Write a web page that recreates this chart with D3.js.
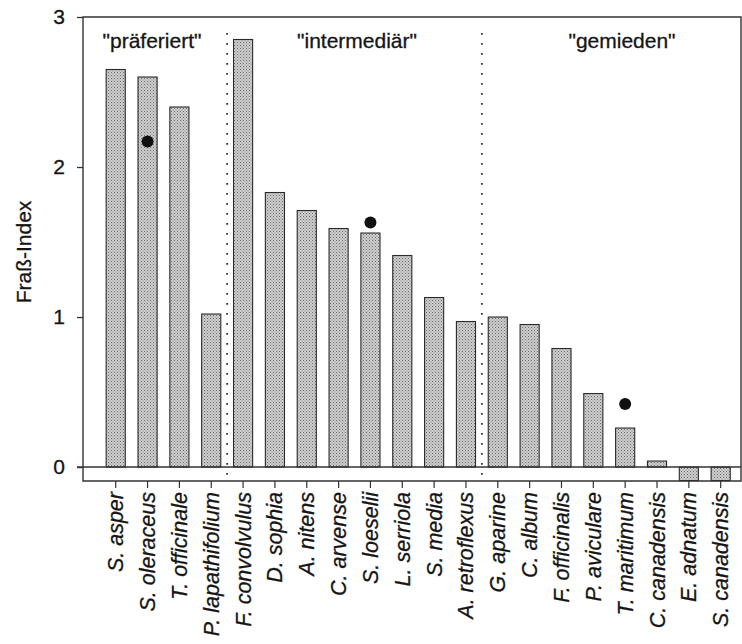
<!DOCTYPE html>
<html>
<head>
<meta charset="utf-8">
<script src="https://cdn.jsdelivr.net/npm/d3@7"></script>
<style>
  body { margin: 0; background: #fff; }
  svg { display: block; font-family: "Liberation Sans", Arial, sans-serif; }
</style>
</head>
<body>
<svg id="chart" width="742" height="644"></svg>
<script>
// species along the x axis
var species = ["S. asper", "S. oleraceus", "T. officinale", "P. lapathifolium", "F. convolvulus",
  "D. sophia", "A. nitens", "C. arvense", "S. loeselii", "L. serriola", "S. media", "A. retroflexus",
  "G. aparine", "C. album", "F. officinalis", "P. aviculare", "T. maritimum", "C. canadensis",
  "E. adnatum", "S. canadensis"];
// Fraß-Index (bars)
var index = [2.65, 2.60, 2.40, 1.02, 2.85, 1.83, 1.71, 1.59, 1.56, 1.41, 1.13, 0.97,
  1.00, 0.95, 0.79, 0.49, 0.26, 0.04, -0.09, -0.09];
// second measurement (black dots)
var dotSpecies = ["S. oleraceus", "S. loeselii", "T. maritimum"];
var dotValues = [2.17, 1.63, 0.42];
// groups
var groupNames = ['"präferiert"', '"intermediär"', '"gemieden"'];
var groupLast = ["P. lapathifolium", "A. retroflexus"]; // divider after these
var yTicks = [0, 1, 2, 3];

var svg = d3.select("#chart");
var mLeft = 83, mRight = 741, mTop = 17, mBottom = 481;
var ink = "#151515";

var x = d3.scaleBand().domain(species).range([99.8, 736.6]).paddingInner(0.4).paddingOuter(0.2);
var y = d3.scaleLinear().domain([-0.093, 3]).range([mBottom, mTop]);

// stipple pattern for bars
var defs = svg.append("defs");
var pat = defs.append("pattern").attr("id", "stip").attr("width", 3).attr("height", 3)
  .attr("patternUnits", "userSpaceOnUse");
pat.append("rect").attr("width", 3).attr("height", 3).attr("fill", "#cdcdcd");
pat.append("rect").attr("x", 0).attr("y", 0).attr("width", 1).attr("height", 1).attr("fill", "#6e6e6e");
pat.append("rect").attr("x", 1.5).attr("y", 1.5).attr("width", 1).attr("height", 1).attr("fill", "#8c8c8c");

// dotted dividers
var mid = function(name) {
  var i = species.indexOf(name);
  return (x(species[i]) + x(species[i + 1]) + x.bandwidth()) / 2;
};
svg.selectAll(".divider").data(groupLast).enter().append("line")
  .attr("class", "divider")
  .attr("x1", function(d) { return mid(d); }).attr("x2", function(d) { return mid(d); })
  .attr("y1", 33).attr("y2", mBottom)
  .attr("stroke", "#333").attr("stroke-width", 1.8).attr("stroke-dasharray", "1.8,8.2");

// bars
var bars = species.map(function(s, i) { return { name: s, v: index[i] }; });
svg.selectAll(".bar").data(bars).enter().append("rect")
  .attr("class", "bar")
  .attr("x", function(d) { return x(d.name); })
  .attr("width", x.bandwidth())
  .attr("y", function(d) { return y(Math.max(0, d.v)); })
  .attr("height", function(d) { return Math.abs(y(d.v) - y(0)); })
  .attr("fill", "url(#stip)").attr("stroke", "#2a2a2a").attr("stroke-width", 1.1);

// dots
var dots = dotSpecies.map(function(s, i) { return { name: s, v: dotValues[i] }; });
svg.selectAll(".dot").data(dots).enter().append("circle")
  .attr("class", "dot")
  .attr("cx", function(d) { return x(d.name) + x.bandwidth() / 2; })
  .attr("cy", function(d) { return y(d.v); })
  .attr("r", 6).attr("fill", "#111");

// frame
svg.append("path")
  .attr("d", "M" + mLeft + "," + mBottom + "V" + mTop + "H" + mRight + "V" + mBottom + "Z")
  .attr("fill", "none").attr("stroke", "#333").attr("stroke-width", 1.4);
// zero line
svg.append("line").attr("x1", mLeft - 6).attr("x2", mRight).attr("y1", y(0)).attr("y2", y(0))
  .attr("stroke", "#333").attr("stroke-width", 1.4);

// y axis
var yAxis = svg.append("g").attr("transform", "translate(" + mLeft + ",0)")
  .call(d3.axisLeft(y).tickValues(yTicks).tickFormat(d3.format("d")).tickSize(6).tickSizeOuter(0).tickPadding(12));
yAxis.select(".domain").remove();
yAxis.selectAll("line").attr("stroke", "#333").attr("stroke-width", 1.3);
yAxis.selectAll("text").attr("font-size", 21).attr("fill", ink)
  .attr("stroke", ink).attr("stroke-width", 0.3)
  .style("font-family", "Liberation Sans, Arial, sans-serif");

// x axis
var xAxis = svg.append("g").attr("transform", "translate(0," + mBottom + ")")
  .call(d3.axisBottom(x).tickSize(7).tickSizeOuter(0).tickPadding(0));
xAxis.select(".domain").remove();
xAxis.selectAll("line").attr("stroke", "#333").attr("stroke-width", 1.2);
xAxis.selectAll("text")
  .attr("font-size", 21.5).attr("fill", ink).attr("font-style", "italic")
  .attr("stroke", ink).attr("stroke-width", 0.3)
  .style("font-family", "Liberation Sans, Arial, sans-serif")
  .attr("text-anchor", "end")
  .attr("transform", "translate(0,11) rotate(-90)")
  .attr("x", 0).attr("y", 0).attr("dy", "0.35em");

// y title
svg.append("text").attr("transform", "translate(31,252) rotate(-90)")
  .attr("text-anchor", "middle").attr("font-size", 21).attr("fill", ink)
  .attr("stroke", ink).attr("stroke-width", 0.3)
  .text("Fraß-Index");

// group labels
var groupX = [152, 357, 622];
svg.selectAll(".grp").data(groupNames).enter().append("text")
  .attr("class", "grp")
  .attr("x", function(d, i) { return groupX[i]; }).attr("y", 48)
  .attr("text-anchor", "middle").attr("font-size", 21).attr("fill", ink)
  .attr("stroke", ink).attr("stroke-width", 0.3)
  .text(function(d) { return d; });
</script>
</body>
</html>
